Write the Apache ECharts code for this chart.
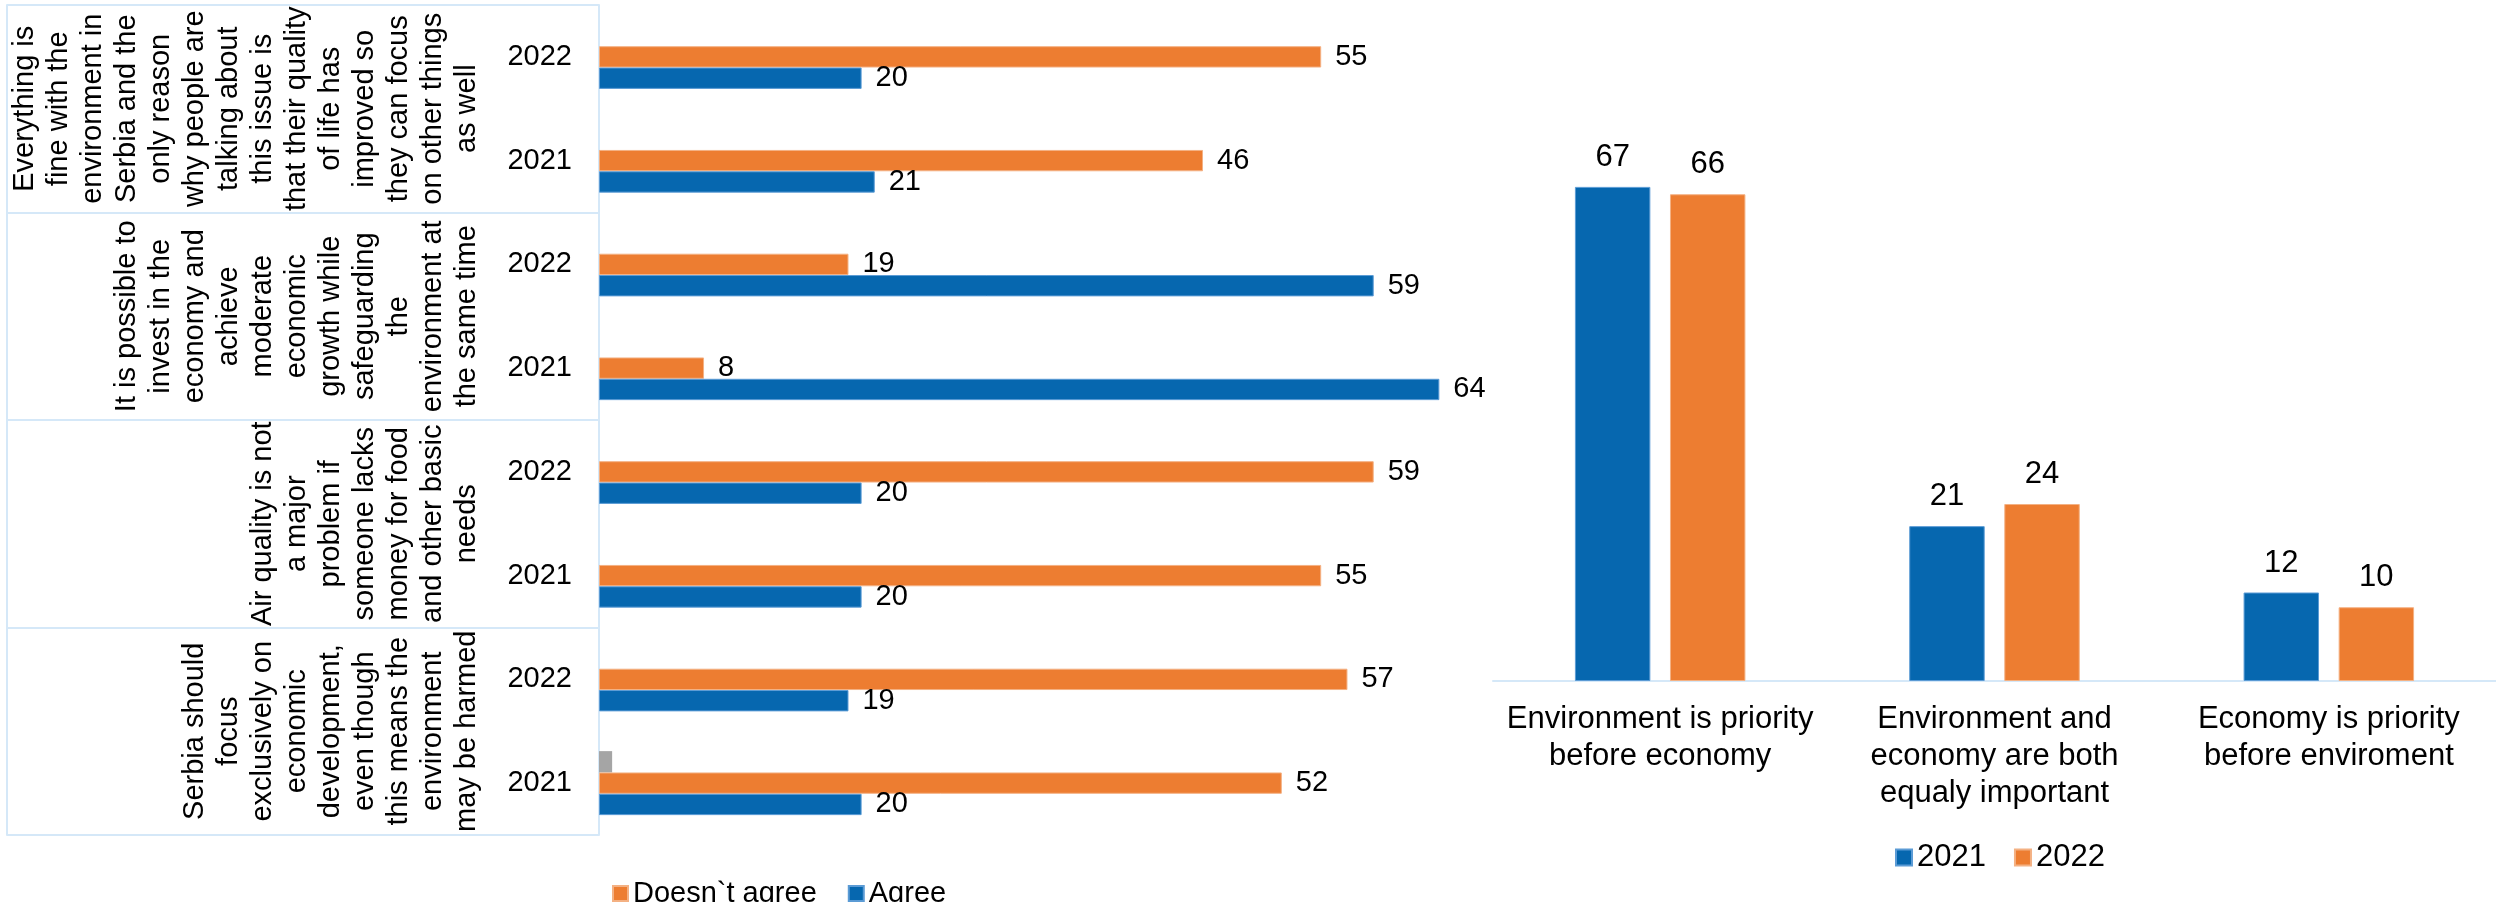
<!DOCTYPE html>
<html>
<head>
<meta charset="utf-8">
<script src="https://cdn.jsdelivr.net/npm/echarts@6/dist/echarts.min.js"></script>
<style>
html,body{margin:0;padding:0;background:#fff;}
#chart{width:2496px;height:902px;}
</style>
</head>
<body>
<div id="chart"></div>
<script>
// ---- Left chart data (top to bottom) ----
var statements = [
  'Everything is\nfine with the\nenvironment in\nSerbia and the\nonly reason\nwhy people are\ntalking about\nthis issue is\nthat their quality\nof life has\nimproved so\nthey can focus\non other things\nas well',
  'It is possible to\ninvest in the\neconomy and\nachieve\nmoderate\neconomic\ngrowth while\nsafeguarding\nthe\nenvironment at\nthe same time',
  'Air quality is not\na major\nproblem if\nsomeone lacks\nmoney for food\nand other basic\nneeds',
  'Serbia should\nfocus\nexclusively on\neconomic\ndevelopment,\neven though\nthis means the\nenvironment\nmay be harmed'
];
var yearLabels = ['2022', '2021'];
var disagreeName = 'Doesn`t agree';
var agreeName = 'Agree';
var otherName = 'Other';
var disagreeValues = [55, 46, 19, 8, 59, 55, 57, 52];
var agreeValues = [20, 21, 59, 64, 20, 20, 19, 20];
var otherValues = [null, null, null, null, null, null, null, 1];

// ---- Right chart data ----
var priorityCats = [
  'Environment is priority\nbefore economy',
  'Environment and\neconomy are both\nequaly important',
  'Economy is priority\nbefore enviroment'
];
var yearNames = ['2021', '2022'];
var values2021 = [67, 21, 12];
var values2022 = [66, 24, 10];

var ORANGE = '#ED7D31', BLUE = '#0667AF', GRAY = '#A5A5A5', LINE = '#D5E8F8';
var FONT = '"Liberation Sans", Arial, sans-serif';

var yearCats = [];
statements.forEach(function (s, gi) {
  yearLabels.forEach(function (y) { yearCats.push(y + '|' + gi); });
});

var chart = echarts.init(document.getElementById('chart'), null, {renderer: 'canvas'});
var option = {
  animation: false,
  backgroundColor: '#fff',
  textStyle: {fontFamily: FONT, color: '#000'},
  grid: [
    {left: 599, top: 5, width: 853.5, height: 830, containLabel: false},
    {left: 1493, top: 91, width: 1026, height: 590, containLabel: false}
  ],
  legend: [
    {
      data: [disagreeName, agreeName],
      left: 607, top: 874,
      icon: 'rect', itemWidth: 15, itemHeight: 15, itemGap: 31,
      textStyle: {fontSize: 29, color: '#000', fontFamily: FONT}
    },
    {
      data: yearNames,
      left: 1890, top: 837,
      icon: 'rect', itemWidth: 16, itemHeight: 16, itemGap: 28,
      textStyle: {fontSize: 31, color: '#000', fontFamily: FONT}
    }
  ],
  xAxis: [
    {gridIndex: 0, type: 'value', min: 0, max: 65, show: false, splitLine: {show: false}},
    {
      gridIndex: 1, type: 'category', data: priorityCats,
      axisLine: {show: true, lineStyle: {color: LINE, width: 2}},
      axisTick: {show: false},
      axisLabel: {interval: 0, fontSize: 31, lineHeight: 37, margin: 20, color: '#000', fontFamily: FONT, align: 'center'}
    }
  ],
  yAxis: [
    {
      gridIndex: 0, type: 'category', data: yearCats, inverse: true,
      axisLine: {show: false}, axisTick: {show: false},
      axisLabel: {
        interval: 0, fontSize: 29, margin: 27, color: '#000', fontFamily: FONT,
        formatter: function (v) { return v.split('|')[0]; }
      }
    },
    {
      gridIndex: 0, type: 'category', data: statements, inverse: true, position: 'left', offset: 0,
      axisLine: {show: true, lineStyle: {color: LINE, width: 2}},
      axisTick: {show: true, length: 592, lineStyle: {color: LINE, width: 2}},
      axisLabel: {interval: 0, rotate: 90, fontSize: 29, lineHeight: 34, margin: 115, color: '#000', fontFamily: FONT}
    },
    {
      gridIndex: 0, type: 'category', data: statements, inverse: true, position: 'left', offset: 592,
      axisLine: {show: true, lineStyle: {color: LINE, width: 2}},
      axisTick: {show: false}, axisLabel: {show: false}
    },
    {gridIndex: 1, type: 'value', min: 0, max: 80, show: false, splitLine: {show: false}}
  ],
  series: [
    {
      name: otherName, type: 'bar', xAxisIndex: 0, yAxisIndex: 0, data: otherValues,
      itemStyle: {color: GRAY}, barGap: '0%', barCategoryGap: '38.3%'
    },
    {
      name: disagreeName, type: 'bar', xAxisIndex: 0, yAxisIndex: 0, data: disagreeValues,
      itemStyle: {color: ORANGE, borderColor: '#F4B183', borderWidth: 1},
      barGap: '0%', barCategoryGap: '38.3%',
      label: {show: true, position: 'right', distance: 14, fontSize: 29, color: '#000', fontFamily: FONT}
    },
    {
      name: agreeName, type: 'bar', xAxisIndex: 0, yAxisIndex: 0, data: agreeValues,
      itemStyle: {color: BLUE, borderColor: '#5B9BD5', borderWidth: 1},
      barGap: '0%', barCategoryGap: '38.3%',
      label: {show: true, position: 'right', distance: 14, fontSize: 29, color: '#000', fontFamily: FONT}
    },
    {
      name: yearNames[0], type: 'bar', xAxisIndex: 1, yAxisIndex: 3, data: values2021,
      itemStyle: {color: BLUE, borderColor: '#5B9BD5', borderWidth: 1},
      barGap: '26%', barCategoryGap: '49%',
      label: {show: true, position: 'top', distance: 14, fontSize: 31, color: '#000', fontFamily: FONT}
    },
    {
      name: yearNames[1], type: 'bar', xAxisIndex: 1, yAxisIndex: 3, data: values2022,
      itemStyle: {color: ORANGE, borderColor: '#F4B183', borderWidth: 1},
      barGap: '26%', barCategoryGap: '49%',
      label: {show: true, position: 'top', distance: 14, fontSize: 31, color: '#000', fontFamily: FONT}
    }
  ]
};
chart.setOption(option);
</script>
</body>
</html>
